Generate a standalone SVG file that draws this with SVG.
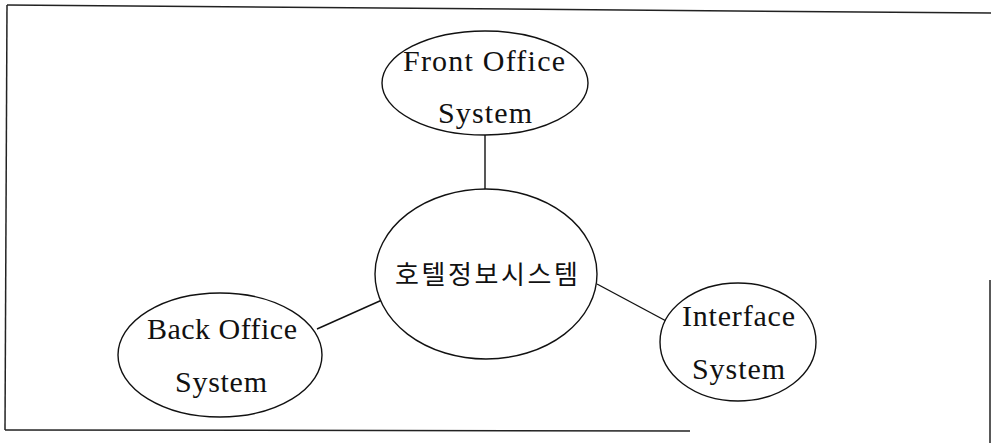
<svg xmlns="http://www.w3.org/2000/svg" width="991" height="443" viewBox="0 0 991 443">
  <style>
    .node ellipse { fill: #ffffff; stroke: #111111; stroke-width: 1.4; }
    .lbl { font-family: "Liberation Serif", "Times New Roman", serif; font-size: 30px; fill: #111111; }
    .kor { font-family: "Noto Sans CJK KR", "Noto Sans", sans-serif; font-size: 26px; fill: #111111; }
    .edge { stroke: #111111; stroke-width: 1.4; fill: none; }
    .frame { stroke: #222222; stroke-width: 1.5; fill: none; }
  </style>
  <rect x="0" y="0" width="991" height="443" fill="#ffffff"/>

  <!-- outer frame -->
  <g id="frame">
    <path class="frame" d="M7,5 L991,13"/>
    <path class="frame" d="M7,5 L5,430"/>
    <path class="frame" d="M5,430 L690,431"/>
    <path class="frame" d="M990,280 L990,443"/>
  </g>

  <!-- connectors -->
  <g id="connectors">
    <line class="edge" x1="485" y1="135" x2="485" y2="190"/>
    <line class="edge" x1="317" y1="329" x2="382" y2="300"/>
    <line class="edge" x1="597" y1="284" x2="668" y2="322"/>
  </g>

  <g id="node-front" class="node">
    <ellipse cx="485" cy="83" rx="103" ry="52"/>
    <text class="lbl" x="403" y="71" textLength="162" lengthAdjust="spacing">Front Office</text>
    <text class="lbl" x="438" y="123" textLength="94" lengthAdjust="spacing">System</text>
  </g>

  <g id="node-hotel" class="node">
    <ellipse cx="486" cy="274" rx="111" ry="85"/>
    <text class="kor" x="395" y="284" textLength="183" lengthAdjust="spacing">호텔정보시스템</text>
  </g>

  <g id="node-back" class="node">
    <ellipse cx="220" cy="355" rx="102" ry="62"/>
    <text class="lbl" x="147" y="339" textLength="150" lengthAdjust="spacing">Back Office</text>
    <text class="lbl" x="175" y="392" textLength="92" lengthAdjust="spacing">System</text>
  </g>

  <g id="node-interface" class="node">
    <ellipse cx="738" cy="342" rx="78" ry="59"/>
    <text class="lbl" x="682" y="326" textLength="113" lengthAdjust="spacing">Interface</text>
    <text class="lbl" x="692" y="379" textLength="93" lengthAdjust="spacing">System</text>
  </g>
</svg>
